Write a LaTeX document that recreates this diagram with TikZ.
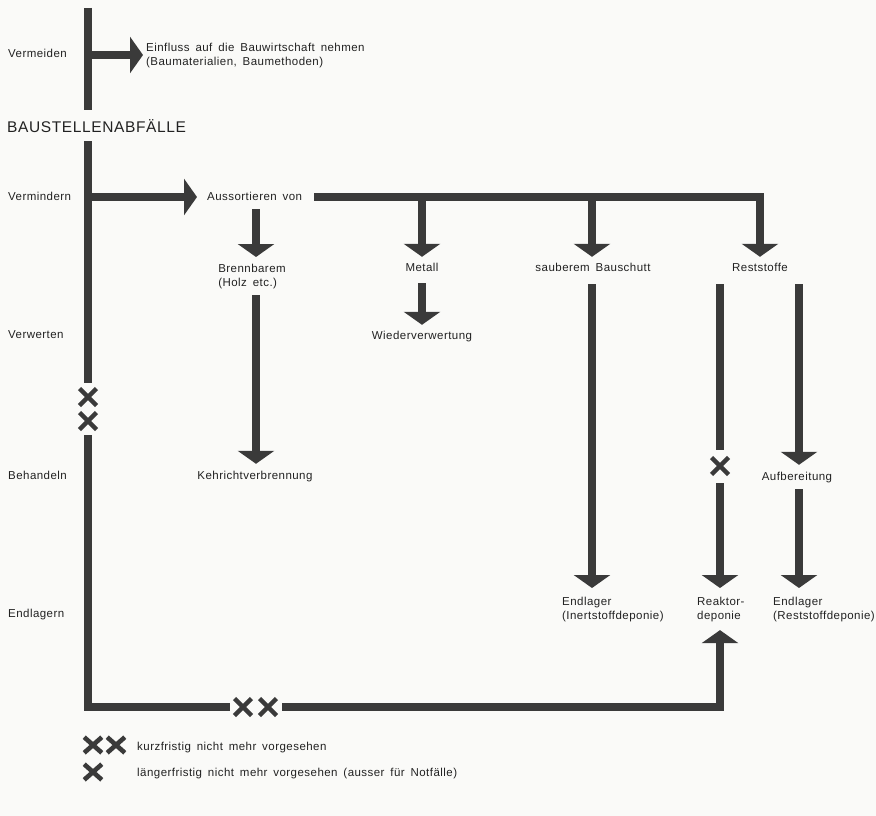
\documentclass[tikz,border=0pt]{standalone}
\usepackage{fontspec}
\setmainfont{Liberation Sans}[LetterSpace=4, WordSpace=1.6]
\usetikzlibrary{arrows.meta,shapes.misc}
\definecolor{ink}{HTML}{3A3A3A}
\definecolor{txt}{HTML}{222222}
\definecolor{paper}{HTML}{FAFAF8}
\begin{document}
\begin{tikzpicture}[x=1pt,y=-1pt,
  lbl/.style={font=\fontsize{11.5}{14}\selectfont, inner sep=0pt, text=txt},
  one/.style={lbl, text height=9pt, text depth=3pt},
  multi/.style={lbl, align=left},
  big/.style={font=\fontsize{15.5}{18}\selectfont, inner sep=0pt, text=txt, text height=11pt, text depth=0pt},
  flow/.style={draw=ink, line width=8pt},
  arr/.style={flow, -{Triangle[width=36pt,length=13pt]}},
  xmark/.style={cross out, draw=ink, line width=4.5pt, inner sep=0pt, minimum size=12.5pt},
  xbig/.style={cross out, draw=ink, line width=4.6pt, inner sep=0pt, minimum width=13pt, minimum height=11pt},
]
\fill[paper] (0,0) rectangle (876,816);
\useasboundingbox (0,0) rectangle (876,816);

% columns and junctions
\coordinate (top) at (88,8);
\coordinate (jv) at (88,55);
\coordinate (jm) at (88,197);
\coordinate (corner) at (88,707);
\coordinate (cB) at (256,0);
\coordinate (cR) at (760,0);
\coordinate (cS) at (592,0);
\coordinate (cRa) at (720,0);
\coordinate (cRb) at (799,0);

% left labels
\node[one, anchor=west] (vermeiden) at (8,55) {Vermeiden};
\node[big, anchor=west] (baust) at (7,127) {BAUSTELLENABFÄLLE};
\node[one, anchor=west] (vermindern) at (8,197) {Vermindern};
\node[one, anchor=west] (verwerten) at (8,335) {Verwerten};
\node[one, anchor=west] (behandeln) at (8,476) {Behandeln};
\node[one, anchor=west] (endlagern) at (8,614) {Endlagern};

% texts
\node[multi, anchor=west] (einfl) at (146,56) {Einfluss auf die Bauwirtschaft nehmen\\(Baumaterialien, Baumethoden)};
\node[one, anchor=west] (aussort) at (207,197) {Aussortieren von};
\node[multi, anchor=north] (brenn) at (252,264) {Brennbarem\\(Holz etc.)};
\node[one] (metall) at (422,268) {Metall};
\node[one] (baus) at (593,268) {sauberem Bauschutt};
\node[one] (rest) at (760,268) {Reststoffe};
\node[one] (wieder) at (422,336) {Wiederverwertung};
\node[one] (kehr) at (255,476) {Kehrichtverbrennung};
\node[one] (aufb) at (797,477) {Aufbereitung};
\node[multi, anchor=north west] (endl1) at (562,597) {Endlager\\(Inertstoffdeponie)};
\node[multi, anchor=north west] (reak) at (697,597) {Reaktor-\\deponie};
\node[multi, anchor=north west] (endl2) at (773,597) {Endlager\\(Reststoffdeponie)};

% crosses
\node[xmark] (x1) at (88,397) {};
\node[xmark] (x2) at (88,421) {};
\node[xmark] (bx1) at (243,707) {};
\node[xmark] (bx2) at (268,707) {};
\node[xmark] (rx) at (720,466) {};

% main line
\draw[flow, shorten >=11pt] (top) -- (top |- baust.north);
\draw[flow, shorten <=8.5pt, shorten >=5.5pt] (top |- baust.south) -- (x1.north);
\draw[flow, shorten <=5.5pt, shorten >=4.5pt] (x2.south) -- (corner) -- (bx1.west);
\draw[arr, shorten <=5.5pt, shorten >=8pt] (bx2.east) -- (cRa |- corner) -- (cRa |- reak.south);

% Vermeiden / Vermindern
\draw[arr, shorten >=3pt] (jv) -- (jv -| einfl.west);
\draw[arr, shorten >=10pt] (jm) -- (aussort.west);

% sorting bar
\draw[arr, shorten <=12pt, shorten >=5pt] (aussort.east) -- (cR |- aussort.east) -- (cR |- rest.north);
\draw[arr, shorten >=5pt] (metall.north |- aussort.east) -- (metall.north);
\draw[arr, shorten >=5pt] (cS |- aussort.east) -- (cS |- baus.north);
\draw[arr, shorten <=6pt, shorten >=7pt] (cB |- aussort.south) -- (cB |- brenn.north);

% second level
\draw[arr, shorten <=6pt, shorten >=6pt] (cB |- brenn.south) -- (cB |- kehr.north);
\draw[arr, shorten <=9pt, shorten >=5pt] (metall.south) -- (wieder.north);
\draw[arr, shorten <=10pt, shorten >=9pt] (cS |- baus.south) -- (cS |- endl1.north);
\draw[flow, shorten <=10pt, shorten >=7.5pt] (cRa |- rest.south) -- (rx.north);
\draw[arr, shorten <=8.5pt, shorten >=9pt] (rx.south) -- (cRa |- reak.north);
\draw[arr, shorten <=10pt, shorten >=6pt] (cRb |- rest.south) -- (cRb |- aufb.north);
\draw[arr, shorten <=6pt, shorten >=9pt] (cRb |- aufb.south) -- (cRb |- endl2.north);

% legend
\node[xbig] (lx1) at (93,745) {};
\node[xbig] (lx2) at (116,745) {};
\node[xbig] (lx3) at (93,772) {};
\node[one, anchor=west] (leg1) at (137,747) {kurzfristig nicht mehr vorgesehen};
\node[one, anchor=west] (leg2) at (137,773) {längerfristig nicht mehr vorgesehen (ausser für Notfälle)};
\end{tikzpicture}
\end{document}
